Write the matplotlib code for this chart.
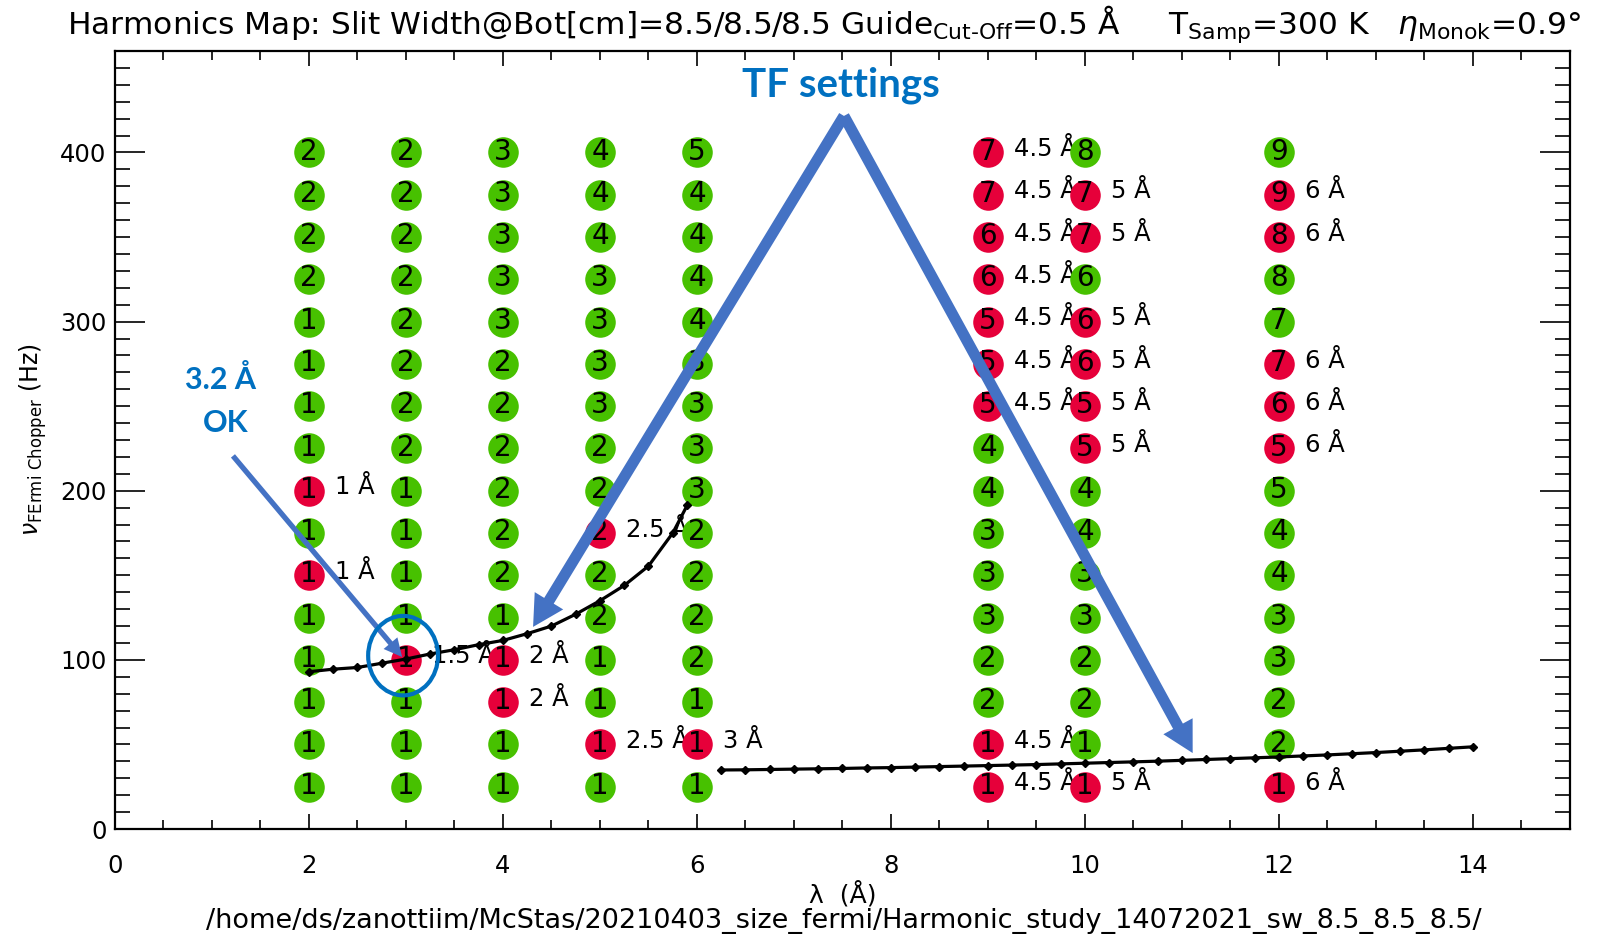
import matplotlib
matplotlib.use('Agg')
import matplotlib.pyplot as plt
from matplotlib.patches import Ellipse
from matplotlib.ticker import MultipleLocator

# ---------------- data ----------------
lam_cols = [2, 3, 4, 5, 6, 9, 10, 12]
freq_rows = [400, 375, 350, 325, 300, 275, 250, 225, 200, 175, 150, 125, 100, 75, 50, 25]
harm_2 = [2, 2, 2, 2, 1, 1, 1, 1, 1, 1, 1, 1, 1, 1, 1, 1]
harm_3 = [2, 2, 2, 2, 2, 2, 2, 2, 1, 1, 1, 1, 1, 1, 1, 1]
harm_4 = [3, 3, 3, 3, 3, 2, 2, 2, 2, 2, 2, 1, 1, 1, 1, 1]
harm_5 = [4, 4, 4, 3, 3, 3, 3, 2, 2, 2, 2, 2, 1, 1, 1, 1]
harm_6 = [5, 4, 4, 4, 4, 3, 3, 3, 3, 2, 2, 2, 2, 1, 1, 1]
harm_9 = [7, 7, 6, 6, 5, 5, 5, 4, 4, 3, 3, 3, 2, 2, 1, 1]
harm_10 = [8, 7, 7, 6, 6, 6, 5, 5, 4, 4, 3, 3, 2, 2, 1, 1]
harm_12 = [9, 9, 8, 8, 7, 7, 6, 5, 5, 4, 4, 3, 3, 2, 2, 1]
red_2 = [200, 150]
red_3 = [100]
red_4 = [100, 75]
red_5 = [175, 50]
red_6 = [50]
red_9 = [400, 375, 350, 325, 300, 275, 250, 50, 25]
red_10 = [375, 350, 300, 275, 250, 225, 25]
red_12 = [375, 350, 275, 250, 225, 25]
cutoff_labels = ['1 Å', '1.5 Å', '2 Å', '2.5 Å', '3 Å', '4.5 Å', '5 Å', '6 Å']

tf1_lam = [2.0, 2.25, 2.5, 2.75, 3.0, 3.25, 3.5, 3.75, 4.0, 4.25, 4.5, 4.75,
           5.0, 5.25, 5.5, 5.75, 5.9]
tf1_freq = [93, 94.5, 95.5, 98, 100.5, 103.5, 106, 109, 111.5, 115.5, 120, 127,
            135, 144, 155.5, 175, 191.5]
tf2_lam = [6.25, 6.5, 6.75, 7.0, 7.25, 7.5, 7.75, 8.0, 8.25, 8.5, 8.75, 9.0,
           9.25, 9.5, 9.75, 10.0, 10.25, 10.5, 10.75, 11.0, 11.25, 11.5, 11.75,
           12.0, 12.25, 12.5, 12.75, 13.0, 13.25, 13.5, 13.75, 14.0]
tf2_freq = [34.9, 35.0, 35.2, 35.4, 35.6, 35.8, 36.1, 36.3, 36.6, 36.9, 37.2, 37.5,
            37.8, 38.1, 38.5, 38.9, 39.3, 39.7, 40.1, 40.6, 41.1, 41.6, 42.1,
            42.6, 43.2, 43.8, 44.5, 45.2, 46.0, 46.8, 47.7, 48.6]

harms = [harm_2, harm_3, harm_4, harm_5, harm_6, harm_9, harm_10, harm_12]
reds = [red_2, red_3, red_4, red_5, red_6, red_9, red_10, red_12]

GREEN = '#47C100'
RED = '#E6003A'
ARROW = '#4472C4'
TXTBLUE = '#0070C0'

W, H = 1624, 938
fig = plt.figure(figsize=(W / 100, H / 100), dpi=100)
ax = fig.add_axes([115 / W, 1 - 829 / H, 1455 / W, 778 / H])
ax.set_xlim(0, 15)
ax.set_ylim(0, 460)

# circles + numbers + labels, column by column (later columns on top)
for k, (lam, hs, rd, lab) in enumerate(zip(lam_cols, harms, reds, cutoff_labels)):
    zc = 3 + 2 * k
    for f, h in zip(freq_rows, hs):
        col = RED if f in rd else GREEN
        ax.plot([lam], [f], marker='o', ms=22, mew=0, color=col,
                linestyle='none', zorder=zc)
        ax.text(lam, f + 0.5, str(h), ha='center', va='center', fontsize=20,
                color='black', zorder=zc + 0.5)
        if f in rd:
            ax.text(lam + 0.27, f + 2, lab, ha='left', va='center',
                    fontsize=17.5, color='black', zorder=zc + 1)

# TF settings curves
for xs, ys in ((tf1_lam, tf1_freq), (tf2_lam, tf2_freq)):
    ax.plot(xs, ys, color='black', lw=2.3, marker='D', ms=4.5, zorder=40)

# axes styling
for s in ax.spines.values():
    s.set_linewidth(1.6)
ax.xaxis.set_major_locator(MultipleLocator(2))
ax.xaxis.set_minor_locator(MultipleLocator(0.5))
ax.yaxis.set_major_locator(MultipleLocator(100))
ax.yaxis.set_minor_locator(MultipleLocator(10))
ax.tick_params(axis='both', which='both', direction='in', top=True, right=True,
               width=1.2, labelsize=17.5)
ax.tick_params(axis='x', which='major', length=11, pad=18)
ax.tick_params(axis='x', which='minor', length=6.5)
ax.tick_params(axis='y', which='major', length=21.5, pad=6)
ax.tick_params(axis='y', which='minor', length=10.8)

ax.set_xlabel('λ  (Å)', fontsize=18, labelpad=2)
ax.set_ylabel(r'$\nu_{\mathrm{FErmi\ Chopper}}$ (Hz)', fontsize=17, labelpad=8)

fig.text(67 / W, 1 - 24 / H,
         r'Harmonics Map: Slit Width@Bot[cm]=8.5/8.5/8.5 Guide$_{\mathrm{Cut‐Off}}$=0.5 Å'
         r'     T$_{\mathrm{Samp}}$=300 K   $\eta_{\mathrm{Monok}}$=0.9°',
         ha='left', va='center', fontsize=22.5)
fig.text(844 / W, 1 - 921 / H,
         '/home/ds/zanottiim/McStas/20210403_size_fermi/Harmonic_study_14072021_sw_8.5_8.5_8.5/',
         ha='center', va='center', fontsize=19.5)

# annotations
apex = (7.515, 421.6)
for tip in ((4.31, 119.5), (11.11, 44.9)):
    ax.annotate('', xy=tip, xytext=apex,
                arrowprops=dict(arrowstyle='simple,head_length=22,head_width=24,tail_width=8',
                                mutation_scale=1, color=ARROW, lw=0,
                                shrinkA=0, shrinkB=0),
                zorder=60, annotation_clip=False)
ax.annotate('', xy=(2.96, 101.7), xytext=(1.216, 220.6),
            arrowprops=dict(arrowstyle='simple,head_length=13,head_width=13,tail_width=3.8',
                            mutation_scale=1, color=ARROW, lw=0,
                            shrinkA=0, shrinkB=0),
            zorder=60)
ax.add_patch(Ellipse((2.97, 102.5), 0.72, 47, fill=False, edgecolor=TXTBLUE,
                     lw=3, zorder=61))
ax.text((841 - 115) / 97, (829 - 85) / 1.691, 'TF settings', ha='center', va='center',
        fontsize=29, fontweight='bold', color=TXTBLUE, family=['Lato', 'DejaVu Sans'],
        zorder=62, clip_on=False)
ax.text((221 - 115) / 97, (829 - 380) / 1.691, '3.2 Å', ha='center', va='center',
        fontsize=22, fontweight='bold', color=TXTBLUE, family=['Lato', 'DejaVu Sans'],
        zorder=62)
ax.text((226 - 115) / 97, (829 - 423) / 1.691, 'OK', ha='center', va='center',
        fontsize=22, fontweight='bold', color=TXTBLUE, family=['Lato', 'DejaVu Sans'],
        zorder=62)

fig.savefig('out.png', dpi=100)
